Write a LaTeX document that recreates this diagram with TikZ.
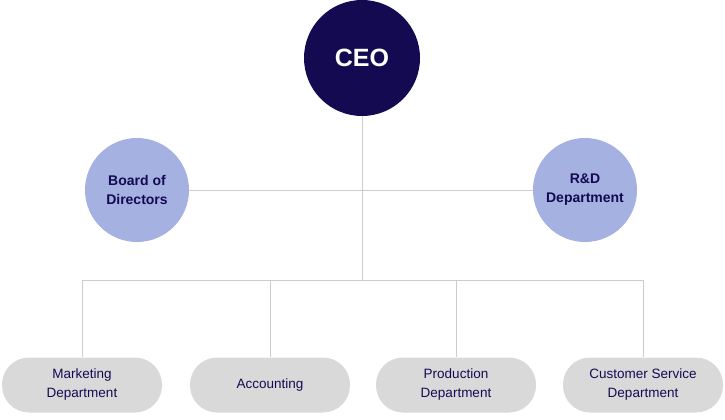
\documentclass[tikz,border=0pt]{standalone}
\usepackage{fontspec}
\setmainfont{Liberation Sans}
\definecolor{navy}{HTML}{140A52}
\definecolor{peri}{HTML}{A4B1E1}
\definecolor{pill}{HTML}{D9D9D9}
\definecolor{ln}{HTML}{CCCCCC}
\begin{document}
\begin{tikzpicture}[x=1pt,y=-1pt,
  ceo/.style={circle,fill=navy,minimum size=116pt,inner sep=0pt,text=white,font=\fontsize{25}{28}\selectfont\bfseries},
  sub/.style={circle,fill=peri,minimum size=104pt,inner sep=0pt,text=navy,align=center,font=\fontsize{14}{19}\selectfont\bfseries},
  dept/.style={rounded corners=27pt,fill=pill,minimum width=160pt,minimum height=55pt,inner sep=0pt,text=navy,align=center,font=\fontsize{13.5}{19}\selectfont},
  conn/.style={draw=ln,line width=0.8pt}]
\useasboundingbox (0,0) rectangle (725,420);
\coordinate (j1) at (362,190);
\coordinate (j2) at (362,280);
\coordinate (h1) at (82,280);
\coordinate (h4) at (643,280);
\coordinate (h2) at (270,280);
\coordinate (h3) at (456,280);
\node[dept] (m) at (82,385) {Marketing\\Department};
\node[dept] (a) at (270,385) {Accounting};
\node[dept] (p) at (456,385) {Production\\Department};
\node[dept] (c) at (643,385) {Customer Service\\Department};
\node[ceo] (ceo) at (362,58) {CEO};
\node[sub] (b) at (137,190) {Board of\\Directors};
\node[sub] (r) at (585,190) {R\&D\\Department};
\begin{scope}[on background layer/.try]
\end{scope}
\draw[conn] (ceo.south) -- (j2);
\draw[conn] (b.east) -- (r.west);
\draw[conn] (h1) -- (h4);
\draw[conn] (h1) -- (m.north);
\draw[conn] (h2) -- (a.north);
\draw[conn] (h3) -- (p.north);
\draw[conn] (h4) -- (c.north);
\end{tikzpicture}
\end{document}
